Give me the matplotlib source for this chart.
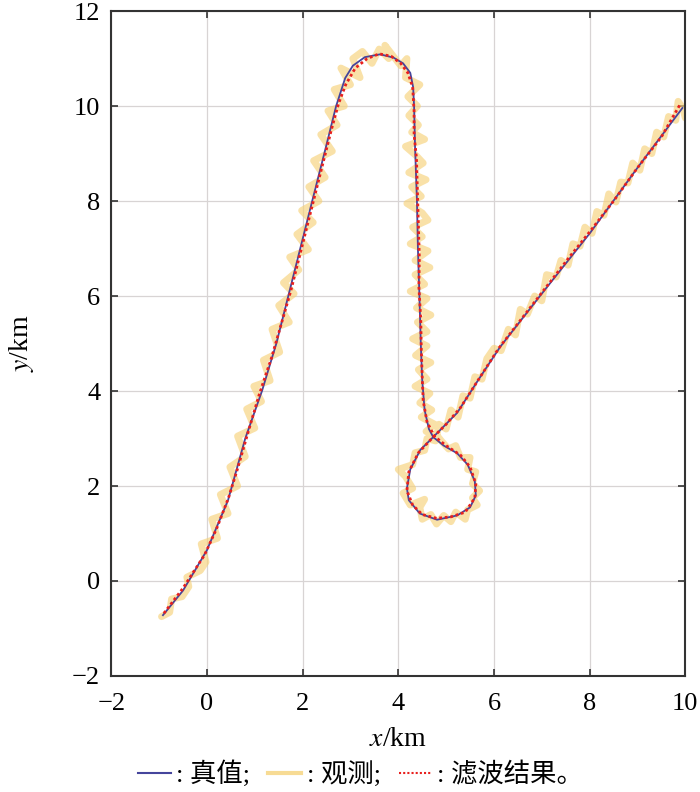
import matplotlib
matplotlib.use('Agg')
import matplotlib.pyplot as plt
from matplotlib.lines import Line2D

plt.rcParams['font.family'] = ['Liberation Serif', 'Noto Sans CJK SC', 'DejaVu Sans']
plt.rcParams['mathtext.fontset'] = 'stix'
plt.rcParams['axes.unicode_minus'] = True

# true trajectory (km)
true_x = [-0.92, -0.5, 0.0, 0.44, 0.8, 1.15, 1.45, 1.7, 1.95, 2.2, 2.47, 2.7, 2.89,
          3.05, 3.3, 3.62, 3.9, 4.1, 4.25, 4.31, 4.33, 4.35, 4.39, 4.41, 4.44, 4.47,
          4.5, 4.55, 4.64, 4.73, 4.95, 5.23, 5.45, 5.6, 5.62, 5.5, 5.23, 4.81, 4.45,
          4.22, 4.18, 4.25, 4.46, 4.73, 5.23, 5.67, 6.13, 7.0, 8.01, 9.0, 9.94]
true_y = [-0.72, -0.2, 0.65, 1.7, 3.0, 4.0, 5.0, 6.0, 7.0, 8.0, 9.07, 10.0, 10.59,
          10.85, 11.03, 11.09, 11.02, 10.9, 10.7, 10.4, 10.0, 9.14, 8.0, 7.0, 6.06, 5.0,
          4.23, 3.6, 3.2, 3.03, 2.85, 2.69, 2.45, 2.1, 1.8, 1.55, 1.38, 1.29, 1.42,
          1.7, 1.95, 2.35, 2.76, 3.03, 3.54, 4.23, 4.93, 6.05, 7.33, 8.7, 9.96]

# observations
obs_x = [-0.95, -0.78, -0.74, -0.52, -0.38, -0.42, -0.14, -0.02, -0.12, 0.22, 0.1, 0.44, 0.28,
         0.64, 0.48, 0.8, 0.64, 1.0, 0.83, 1.14, 0.98, 1.32, 1.18, 1.52, 1.36, 1.72, 1.5,
         1.82, 1.6, 1.92, 1.73, 2.12, 1.88, 2.22, 1.98, 2.34, 2.13, 2.47, 2.23, 2.62, 2.38,
         2.72, 2.53, 2.87, 2.66, 3.0, 2.8,
         3.2, 3.05, 3.25, 3.45, 3.6, 3.8, 3.72, 4.05, 4.18, 4.15, 4.45, 4.2,
         4.4, 4.22, 4.42, 4.28, 4.55, 4.15, 4.38, 4.52, 4.22, 4.58, 4.28, 4.48, 4.18, 4.5,
         4.62, 4.3, 4.5, 4.25, 4.62, 4.35, 4.66, 4.35, 4.55, 4.25, 4.6, 4.38, 4.68, 4.4,
         4.6, 4.3, 4.6, 4.36, 4.68, 4.42, 4.6, 4.35, 4.66, 4.45, 4.7, 4.48, 4.76,
         4.58, 4.82,
         4.9, 5.05, 5.2, 5.3, 5.5, 5.45, 5.62, 5.55, 5.7, 5.55, 5.65, 5.45, 5.4, 5.2,
         5.1, 4.95, 4.8, 4.68, 4.5, 4.45, 4.55, 4.25, 4.1, 4.3, 4.15, 4.0, 4.3, 4.35,
         4.55, 4.6, 4.78,
         4.85, 5.0, 5.1, 5.25, 5.35, 5.5, 5.6, 5.75, 5.85, 6.0, 6.15, 6.3, 6.45, 6.55,
         6.7, 6.85, 7.0, 7.1, 7.3, 7.4, 7.55, 7.65, 7.8, 7.9, 8.05, 8.15, 8.3, 8.4,
         8.55, 8.65, 8.8, 8.9, 9.05, 9.15, 9.3, 9.4, 9.55, 9.65, 9.8, 9.85, 9.95, 10.0]
obs_y = [-0.75, -0.66, -0.38, -0.33, -0.12, 0.08, 0.22, 0.4, 0.78, 0.9, 1.3, 1.42, 1.82,
         2.0, 2.4, 2.62, 3.05, 3.22, 3.62, 3.78, 4.1, 4.22, 4.65, 4.82, 5.3, 5.45, 5.8,
         6.05, 6.28, 6.55, 6.82, 6.98, 7.3, 7.55, 7.8, 8.0, 8.3, 8.5, 8.85, 9.05, 9.4,
         9.6, 9.9, 10.0, 10.35, 10.45, 10.8,
         10.6, 11.0, 11.15, 10.9, 11.2, 11.0, 11.28, 10.85, 11.0, 10.6, 10.45, 10.2,
         10.0, 9.8, 9.6, 9.45, 9.3, 9.15, 8.95, 8.8, 8.6, 8.45, 8.3, 8.1, 7.95, 7.75,
         7.6, 7.45, 7.25, 7.1, 6.95, 6.75, 6.6, 6.45, 6.25, 6.1, 5.95, 5.75, 5.6, 5.45,
         5.25, 5.1, 4.95, 4.75, 4.6, 4.45, 4.25, 4.1, 3.95, 3.75, 3.6, 3.45, 3.3,
         3.15, 3.05,
         2.95, 2.78, 2.85, 2.6, 2.6, 2.35, 2.3, 2.05, 1.9, 1.75, 1.6, 1.5, 1.3, 1.45,
         1.25, 1.38, 1.2, 1.4, 1.3, 1.55, 1.72, 1.6, 1.85, 1.95, 2.2, 2.35, 2.45, 2.7,
         2.75, 3.0, 2.95,
         3.3, 3.2, 3.6, 3.45, 3.9, 3.85, 4.3, 4.25, 4.68, 4.9, 4.85, 5.3, 5.18, 5.72,
         5.62, 6.0, 5.9, 6.45, 6.4, 6.75, 6.65, 7.1, 7.05, 7.45, 7.32, 7.78, 7.7, 8.15,
         7.98, 8.4, 8.38, 8.8, 8.65, 9.1, 9.0, 9.45, 9.35, 9.78, 9.7, 10.1, 9.95, 9.75]

# filter output
filt_x = [-0.9, -0.5, -0.05, 0.2, 0.45, 0.65, 0.85, 1.1, 1.35, 1.55, 1.75, 1.95, 2.15,
          2.3, 2.45, 2.6, 2.75, 2.9, 3.1, 3.35, 3.6, 3.85, 4.05, 4.2, 4.3, 4.33, 4.33,
          4.38, 4.4, 4.42, 4.44, 4.43, 4.47, 4.48, 4.5, 4.52, 4.6, 4.75, 5.0, 5.3, 5.5,
          5.62, 5.6, 5.4, 5.1, 4.8, 4.5, 4.3, 4.18, 4.22, 4.42, 4.7, 5.0, 5.3, 5.65,
          6.1, 6.6, 7.1, 7.6, 8.0, 8.5, 9.0, 9.5, 9.9]
filt_y = [-0.68, -0.15, 0.55, 1.1, 1.75, 2.4, 3.1, 3.95, 4.7, 5.4, 6.1, 6.9, 7.7,
          8.3, 8.9, 9.5, 10.05, 10.45, 10.8, 11.0, 11.1, 11.05, 10.9, 10.7, 10.4, 9.9, 9.4,
          8.9, 8.2, 7.5, 6.8, 6.2, 5.5, 4.9, 4.3, 3.8, 3.35, 3.05, 2.85, 2.65, 2.4,
          2.05, 1.75, 1.45, 1.35, 1.32, 1.4, 1.6, 1.9, 2.3, 2.7, 3.0, 3.3, 3.65, 4.2,
          4.9, 5.55, 6.2, 6.85, 7.35, 8.0, 8.7, 9.35, 10.05]

TRUE_C = '#45459c'
OBS_C = '#F6D27A'
FILT_C = '#e8201e'

fig = plt.figure(figsize=(7, 7.92), dpi=100)
ax = fig.add_axes([0.159, 0.1465, 0.82, 0.8395])

ax.plot(obs_x, obs_y, color=OBS_C, lw=5, alpha=0.65, solid_joinstyle='round',
        solid_capstyle='round', zorder=2)
ax.plot(true_x, true_y, color=TRUE_C, lw=1.3, zorder=3)
ax.plot(filt_x, filt_y, color=FILT_C, lw=2, linestyle=(0, (1, 1)), zorder=4)

ax.set_xlim(-2, 10)
ax.set_ylim(-2, 12)
ax.set_xticks(range(-2, 11, 2))
ax.set_yticks(range(-2, 13, 2))
ax.grid(True, color='#d8d4d4', lw=0.9)
ax.set_axisbelow(True)
ax.tick_params(direction='in', top=True, right=True, length=5, width=1.2,
               labelsize=19, color='#333333')
ax.tick_params(axis='x', pad=12)
ax.tick_params(axis='y', pad=8)
for s in ax.spines.values():
    s.set_color('#333333')
    s.set_linewidth(1.5)

ax.set_xlabel(r'$x$/km', fontsize=20, labelpad=9)
ax.set_ylabel(r'$y$/km', fontsize=20, labelpad=26)

handles = [Line2D([], [], color=TRUE_C, lw=1.5),
           Line2D([], [], color=OBS_C, lw=3, alpha=0.8),
           Line2D([], [], color=FILT_C, lw=1.5, linestyle=(0, (1, 1)))]
labels = [': 真值;', ': 观测;', ': 滤波结果。']
fig.legend(handles, labels, loc='lower center',
           bbox_to_anchor=(0.515, -0.024), ncol=3, frameon=False, fontsize=19,
           handlelength=1.25, handletextpad=0.2, columnspacing=0.7)

plt.savefig('out.png', dpi=100)
